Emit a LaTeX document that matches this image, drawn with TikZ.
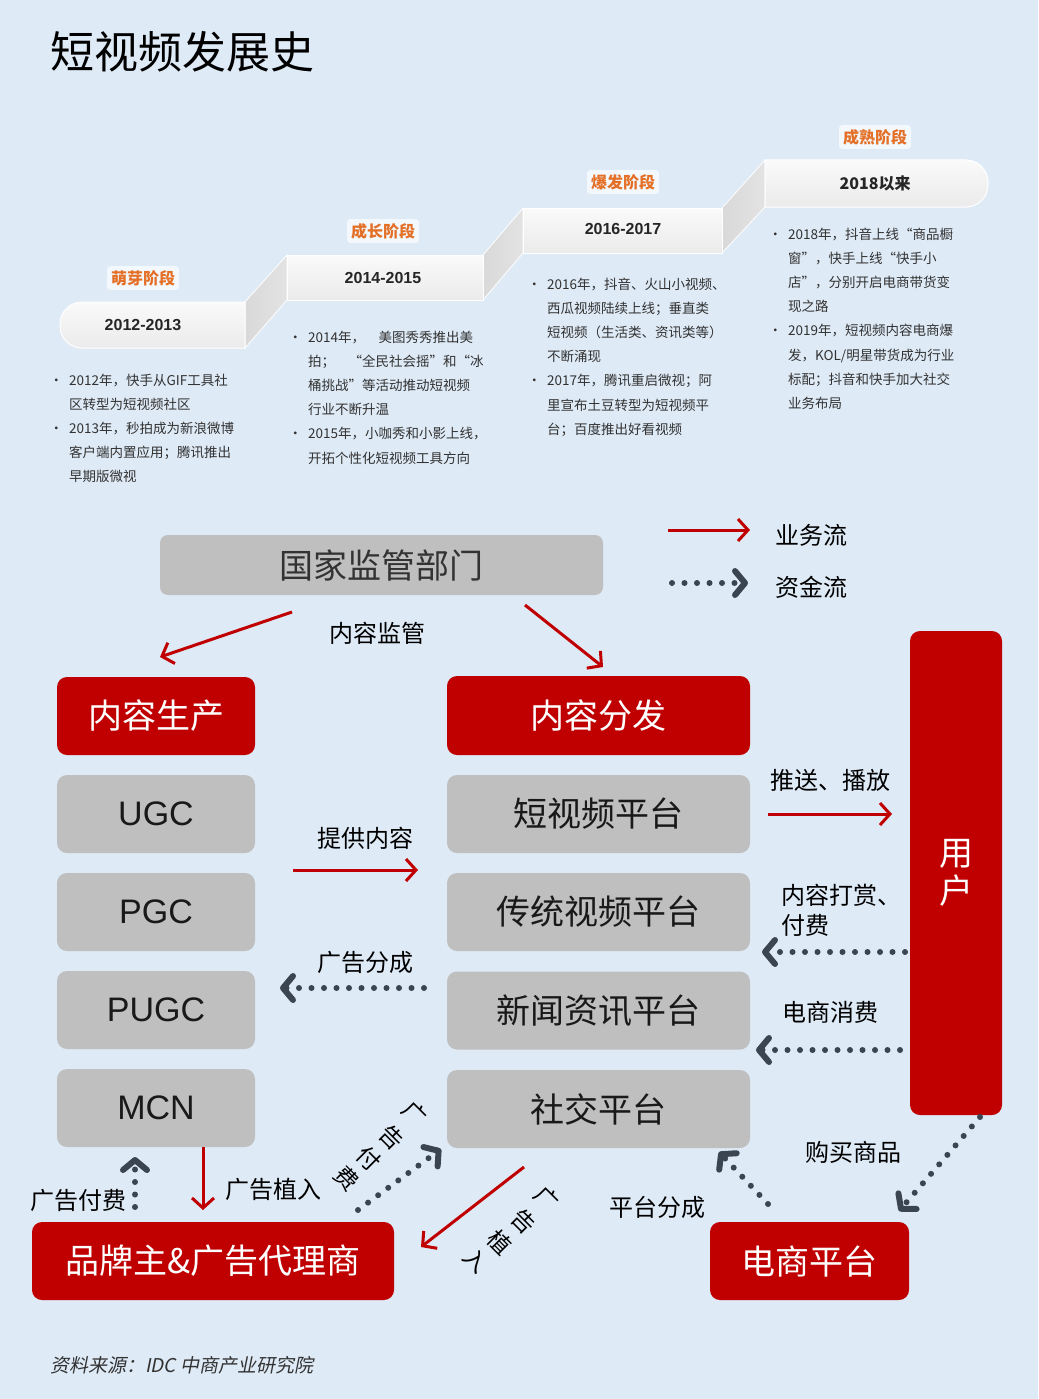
\documentclass[tikz,border=0pt]{standalone}
\usepackage{fontspec}
\newfontfamily\cjk{Noto Sans CJK SC}
\newfontfamily\cjkit[FakeSlant=0.2]{Noto Sans CJK SC}
\newfontfamily\arial{Liberation Sans}
\usetikzlibrary{arrows.meta}
\definecolor{bg}{RGB}{222,234,246}
\definecolor{dred}{RGB}{192,0,0}
\definecolor{lgray}{RGB}{191,191,191}
\definecolor{slate}{RGB}{59,69,82}
\definecolor{orng}{RGB}{228,112,40}
\definecolor{txt}{RGB}{50,50,50}
\begin{document}
\begin{tikzpicture}[x=1pt,y=-1pt,
  redbox/.style={fill=dred, rounded corners=10pt, text=white, inner sep=0pt, font=\cjk\fontsize{34}{38}\selectfont},
  graybox/.style={fill=lgray, rounded corners=10pt, text=black!90, inner sep=0pt, font=\cjk\fontsize{34}{38}\selectfont},
  latinbox/.style={graybox, font=\arial\fontsize{34}{38}\selectfont},
  lbl/.style={font=\cjk\fontsize{24}{30}\selectfont, text=black, inner sep=0pt},
  rchar/.style={font=\cjk\fontsize{23}{26}\selectfont, text=black, inner sep=0pt, rotate=-45},
  bizflow/.style={draw=dred, line width=3pt, -{Straight Barb[length=10pt,width=22pt,line width=3pt]}},
  cashflow/.style={draw=slate, line width=6pt, line cap=round, dash pattern=on 0pt off 12.5pt, -{Straight Barb[length=10pt,width=24pt,line width=6pt,round]}},
  ribbon/.style={top color=gray!4, bottom color=gray!16, draw=white, line width=1pt},
  fold/.style={left color=gray!30, right color=gray!22, draw=white, line width=0.8pt},
  year/.style={font=\arial\bfseries\fontsize{16}{18}\selectfont, text=black!85, inner sep=0pt},
  stage/.style={font=\cjk\bfseries\fontsize{16}{18}\selectfont, text=orng, fill=white!65!bg, inner sep=4pt, rounded corners=3pt},
  bullets/.style={font=\cjk\fontsize{13.5}{24.2}\selectfont, text=txt, align=left, inner sep=0pt, anchor=north west}
]
\useasboundingbox (0,0) rectangle (1038,1399);
\fill[bg] (0,0) rectangle (1038,1399);

% title
\node[font=\cjk\fontsize{44}{48}\selectfont, text=black, inner sep=0pt, anchor=west] (title) at (50,52) {短视频发展史};

% timeline folds
\shade[fold] (245,302) -- (287,255) -- (287,300) -- (245,348) -- cycle;
\shade[fold] (483,255) -- (523,208) -- (523,253) -- (483,300) -- cycle;
\shade[fold] (722,208) -- (765,160) -- (765,207) -- (722,253) -- cycle;
% ribbons
\shade[ribbon] (245,302) [rounded corners=22pt] -- (60,302) -- (60,348) [sharp corners] -- (245,348) -- cycle;
\shade[ribbon] (287,255) rectangle (483,300);
\shade[ribbon] (523,208) rectangle (722,253);
\shade[ribbon] (765,160) [rounded corners=22pt] -- (988,160) -- (988,207) [sharp corners] -- (765,207) -- cycle;

\node[year] (y1) at (143,325) {2012-2013};
\node[year] (y2) at (383,278) {2014-2015};
\node[year] (y3) at (623,229) {2016-2017};
\node[year, font=\cjk\bfseries\fontsize{16}{18}\selectfont] (y4) at (875,183) {2018以来};

\node[stage] (s1) at (143,278) {萌芽阶段};
\node[stage] (s2) at (383,231) {成长阶段};
\node[stage] (s3) at (623,182) {爆发阶段};
\node[stage] (s4) at (875,137) {成熟阶段};

\node[bullets] (b1) at (69,368) {\strut\llap{•\hspace{6pt}}2012年，快手从GIF工具社\\区转型为短视频社区\\\llap{•\hspace{6pt}}2013年，秒拍成为新浪微博\\客户端内置应用；腾讯推出\\早期版微视};
\node[bullets] (b2) at (308,325) {\strut\llap{•\hspace{6pt}}2014年，　美图秀秀推出美\\拍；　“全民社会摇”和“冰\\桶挑战”等活动推动短视频\\行业不断升温\\\llap{•\hspace{6pt}}2015年，小咖秀和小影上线，\\开拓个性化短视频工具方向};
\node[bullets] (b3) at (547,272) {\strut\llap{•\hspace{6pt}}2016年，抖音、火山小视频、\\西瓜视频陆续上线；垂直类\\短视频（生活类、资讯类等）\\不断涌现\\\llap{•\hspace{6pt}}2017年，腾讯重启微视；阿\\里宣布土豆转型为短视频平\\台；百度推出好看视频};
\node[bullets] (b4) at (788,222) {\strut\llap{•\hspace{6pt}}2018年，抖音上线“商品橱\\窗”，快手上线“快手小\\店”，分别开启电商带货变\\现之路\\\llap{•\hspace{6pt}}2019年，短视频内容电商爆\\发，KOL/明星带货成为行业\\标配；抖音和快手加大社交\\业务布局};

% legend
\coordinate (lg1a) at (668,530); \coordinate (lg1b) at (750,530);
\coordinate (lg2a) at (672,583); \coordinate (lg2b) at (748,583);
\draw[bizflow] (lg1a) -- (lg1b);
\draw[cashflow] (lg2a) -- (lg2b);
\node[lbl, anchor=west] (lgt1) at (775,535) {业务流};
\node[lbl, anchor=west] (lgt2) at (775,587) {资金流};

% boxes
\node[graybox, rounded corners=8pt, minimum width=443pt, minimum height=60pt, text=black!80] (reg) at (381.5,565) {国家监管部门};
\node[redbox, minimum width=198pt, minimum height=78pt] (cp) at (156,716) {内容生产};
\node[redbox, minimum width=303pt, minimum height=79pt] (cd) at (598.5,715.5) {内容分发};
\node[latinbox, minimum width=198pt, minimum height=78pt] (ugc) at (156,814) {UGC};
\node[latinbox, minimum width=198pt, minimum height=78pt] (pgc) at (156,912) {PGC};
\node[latinbox, minimum width=198pt, minimum height=78pt] (pugc) at (156,1010) {PUGC};
\node[latinbox, minimum width=198pt, minimum height=78pt] (mcn) at (156,1108) {MCN};
\node[graybox, minimum width=303pt, minimum height=78pt] (svp) at (598.5,814) {短视频平台};
\node[graybox, minimum width=303pt, minimum height=78pt] (tvp) at (598.5,912) {传统视频平台};
\node[graybox, minimum width=303pt, minimum height=78pt] (nip) at (598.5,1010.5) {新闻资讯平台};
\node[graybox, minimum width=303pt, minimum height=78pt] (sp) at (598.5,1109) {社交平台};
\node[redbox, minimum width=92pt, minimum height=484pt, align=center] (user) at (956,873) {用\\户};
\node[redbox, minimum width=362pt, minimum height=78pt] (brand) at (213,1261) {品牌主\&广告代理商};
\node[redbox, minimum width=199pt, minimum height=78pt] (ecom) at (809.5,1261) {电商平台};

% labels
\node[lbl] (l1) at (377,633) {内容监管};
\node[lbl] (l2) at (365,838) {提供内容};
\node[lbl] (l3) at (365,962) {广告分成};
\node[lbl] (l4) at (830,780) {推送、播放};
\node[lbl, align=left, anchor=west, font=\cjk\fontsize{24}{30}\selectfont] (l5) at (781,910) {内容打赏、\\付费};
\node[lbl] (l6) at (830,1012) {电商消费};
\node[lbl] (l7) at (853,1152) {购买商品};
\node[lbl] (l8) at (657,1207) {平台分成};
\node[lbl] (l9) at (273,1189) {广告植入};
\node[lbl] (l10) at (78,1200) {广告付费};
% rotated labels, one character each along the diagonal
\node[rchar] (l11a) at (415,1114) {广};
\node[rchar] (l11b) at (392,1138) {告};
\node[rchar] (l11c) at (369,1159) {付};
\node[rchar] (l11d) at (347,1178) {费};
\node[rchar] (l12a) at (547,1199) {广};
\node[rchar] (l12b) at (524,1222) {告};
\node[rchar] (l12c) at (500,1242) {植};
\node[rchar] (l12d) at (476,1261) {入};

% connectors
\coordinate (a1s) at (292,612); \coordinate (a1e) at (160,657);
\coordinate (a2s) at (525,605); \coordinate (a2e) at (603,667);
\draw[bizflow] (a1s) -- (a1e);
\draw[bizflow] (a2s) -- (a2e);

\coordinate (a3s) at (293,870); \coordinate (a3e) at (418,870);
\draw[bizflow] (a3s) -- (a3e);
\coordinate (a4s) at (424,988); \coordinate (a4e) at (280,988);
\draw[cashflow] (a4s) -- (a4e);

\coordinate (a5s) at (768,814); \coordinate (a5e) at (892,814);
\draw[bizflow] (a5s) -- (a5e);
\coordinate (a6s) at (905,952); \coordinate (a6e) at (762,952);
\draw[cashflow] (a6s) -- (a6e);
\coordinate (a7s) at (900,1050); \coordinate (a7e) at (756,1050);
\draw[cashflow] (a7s) -- (a7e);

\draw[bizflow] (mcn.south -| 203,0) -- (203,1210) coordinate (a8e);
\coordinate (a9s) at (135,1207); \coordinate (a9e) at (135,1157);
\draw[cashflow] (a9s) -- (a9e);
\coordinate (a10s) at (358,1210); \coordinate (a10e) at (441,1149);
\draw[cashflow] (a10s) -- (a10e);
\coordinate (a11s) at (524,1167); \coordinate (a11e) at (421,1247);
\draw[bizflow] (a11s) -- (a11e);
\coordinate (a12s) at (980,1117); \coordinate (a12e) at (899,1211);
\draw[cashflow] (a12s) -- (a12e);
\coordinate (a13s) at (768,1204); \coordinate (a13e) at (719,1152);
\draw[cashflow] (a13s) -- (a13e);

% source
\node[font=\cjkit\fontsize{19}{22}\selectfont, text=txt, inner sep=0pt, anchor=west] (src) at (50,1365) {资料来源：IDC 中商产业研究院};
\end{tikzpicture}
\end{document}
